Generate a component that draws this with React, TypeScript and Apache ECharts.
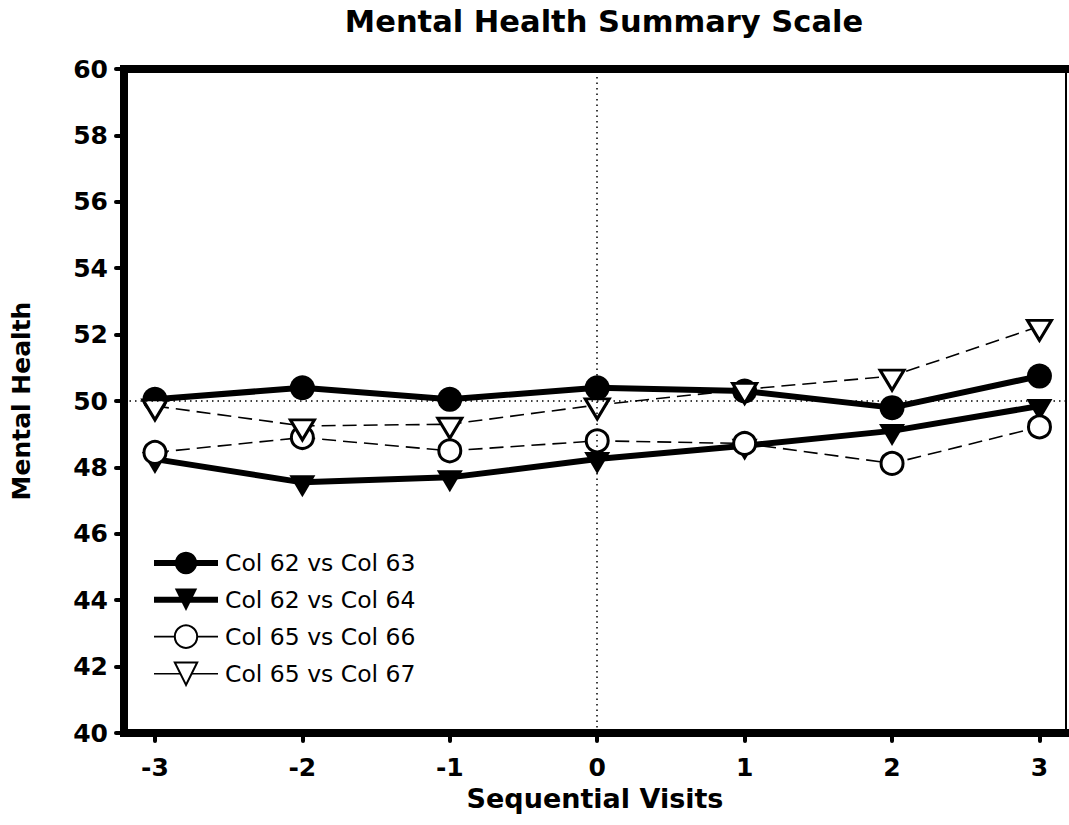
import React, { useEffect, useRef } from "react";
import * as echarts from "echarts";

const visits = [-3, -2, -1, 0, 1, 2, 3];
const col62vs63 = [50.05, 50.4, 50.05, 50.4, 50.3, 49.8, 50.75];
const col62vs64 = [48.25, 47.55, 47.7, 48.25, 48.65, 49.1, 49.85];
const col65vs66 = [48.45, 48.9, 48.5, 48.8, 48.72, 48.12, 49.22];
const col65vs67 = [49.85, 49.25, 49.3, 49.88, 50.35, 50.75, 52.25];
const yTicks = [40, 42, 44, 46, 48, 50, 52, 54, 56, 58, 60];
const seriesNames = ["Col 62 vs Col 63", "Col 62 vs Col 64", "Col 65 vs Col 66", "Col 65 vs Col 67"];

const FONT = "DejaVu Sans, Verdana, sans-serif";

export default function App() {
  const ref = useRef<HTMLDivElement>(null);
  useEffect(() => {
    if (!ref.current) return;
    const chart = echarts.init(ref.current, undefined, { renderer: "svg" });
    const pair = (ys: number[]) => visits.map((x, i) => [x, ys[i]]);
    const triOffset = [0, 4];
    const boldLbl = { fontFamily: FONT, fontWeight: "bold", fontSize: 25, color: "#000" };
    chart.setOption({
      animation: false,
      backgroundColor: "#ffffff",
      textStyle: { fontFamily: FONT, color: "#000" },
      title: {
        text: "Mental Health Summary Scale",
        left: 599,
        top: 1,
        textAlign: "center",
        textStyle: { fontFamily: FONT, fontWeight: "bold", fontSize: 30.5, color: "#000" },
      },
      legend: {
        left: 146,
        top: 546,
        orient: "vertical",
        itemWidth: 64,
        itemHeight: 28,
        itemGap: 12.7,
        textStyle: { fontFamily: FONT, fontSize: 23.5, color: "#000", padding: [0, 0, 0, 2] },
        data: [
          { name: seriesNames[0], lineStyle: { width: 6 } },
          { name: seriesNames[1], lineStyle: { width: 6 } },
          { name: seriesNames[2], lineStyle: { width: 1.6, type: "solid" } },
          { name: seriesNames[3], lineStyle: { width: 1.6, type: "solid" } },
        ],
      },
      grid: { left: 124, top: 69, width: 942, height: 664, containLabel: false },
      xAxis: [
        {
          type: "value",
          min: -3.21,
          max: 3.18,
          position: "bottom",
          name: "Sequential Visits",
          nameLocation: "middle",
          nameGap: 40,
          nameTextStyle: { ...boldLbl, fontSize: 27 },
          axisLine: { show: true, onZero: false, lineStyle: { color: "#000", width: 8, cap: "square" } },
          axisTick: {
            show: true,
            length: 8,
            customValues: visits,
            lineStyle: { color: "#000", width: 4, cap: "round" },
          },
          axisLabel: { customValues: visits, margin: 22, ...boldLbl },
          splitLine: { show: false },
        },
        {
          type: "value",
          min: -3.21,
          max: 3.18,
          position: "top",
          axisLine: { show: true, onZero: false, lineStyle: { color: "#000", width: 8, cap: "square" } },
          axisTick: { show: false },
          axisLabel: { show: false },
          splitLine: { show: false },
        },
      ],
      yAxis: [
        {
          type: "value",
          min: 40,
          max: 60,
          interval: 2,
          position: "left",
          name: "Mental Health",
          nameLocation: "middle",
          nameRotate: 90,
          nameGap: 90,
          nameTextStyle: boldLbl,
          axisLine: { show: true, onZero: false, lineStyle: { color: "#000", width: 8, cap: "square" } },
          axisTick: {
            show: true,
            length: 8,
            customValues: yTicks,
            lineStyle: { color: "#000", width: 4, cap: "round" },
          },
          axisLabel: { customValues: yTicks, margin: 16, ...boldLbl },
          splitLine: { show: false },
        },
        {
          type: "value",
          min: 40,
          max: 60,
          position: "right",
          axisLine: { show: true, onZero: false, lineStyle: { color: "#000", width: 2 } },
          axisTick: { show: false },
          axisLabel: { show: false },
          splitLine: { show: false },
        },
      ],
      series: [
        {
          name: seriesNames[0],
          type: "line",
          data: pair(col62vs63),
          symbol: "circle",
          symbolSize: 25,
          itemStyle: { color: "#000", borderColor: "#000", borderWidth: 0 },
          lineStyle: { color: "#000", width: 6 },
          z: 2,
        },
        {
          name: seriesNames[1],
          type: "line",
          data: pair(col62vs64),
          symbol: "triangle",
          symbolRotate: 180,
          symbolSize: [26, 22],
          symbolOffset: triOffset,
          itemStyle: { color: "#000", borderColor: "#000", borderWidth: 0 },
          lineStyle: { color: "#000", width: 6 },
          z: 3,
        },
        {
          name: seriesNames[2],
          type: "line",
          data: pair(col65vs66),
          symbol: "circle",
          symbolSize: 22,
          itemStyle: { color: "#fff", borderColor: "#000", borderWidth: 3 },
          lineStyle: { color: "#000", width: 1.6, type: [14, 7] },
          z: 4,
        },
        {
          name: seriesNames[3],
          type: "line",
          data: pair(col65vs67),
          symbol: "triangle",
          symbolRotate: 180,
          symbolSize: [24, 20],
          symbolOffset: triOffset,
          itemStyle: { color: "#fff", borderColor: "#000", borderWidth: 3 },
          lineStyle: { color: "#000", width: 1.6, type: [14, 7] },
          z: 5,
          markLine: {
            silent: true,
            symbol: "none",
            label: { show: false },
            lineStyle: { color: "#000", width: 1.5, type: [1.5, 4] },
            data: [{ yAxis: 50 }, { xAxis: 0 }],
            z: 10,
          },
        },
      ],
    });
    return () => chart.dispose();
  }, []);
  return (
    <div
      ref={ref}
      style={{ position: "fixed", left: 0, top: 0, width: 1069, height: 825, background: "#fff" }}
    />
  );
}
